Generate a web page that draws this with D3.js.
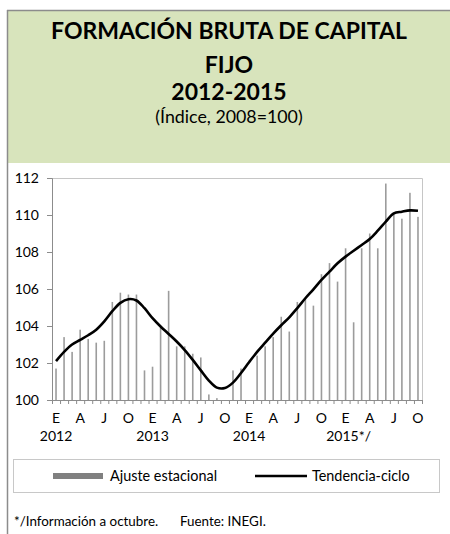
<!DOCTYPE html>
<html>
<head>
<meta charset="utf-8">
<script src="https://cdn.jsdelivr.net/npm/d3@7"></script>
<style>
  body { margin: 0; background: #fff; }
  text { font-family: Lato, "Open Sans", sans-serif; fill: #000; }
</style>
</head>
<body>
<script>
// monthly values, Jan 2012 - Oct 2015
var monthLetters = ["E","F","M","A","M","J","J","A","S","O","N","D"];
var years = ["2012", "2013", "2014", "2015*/"];

var ajuste = [101.7, 103.4, 102.6, 103.8, 103.3, 103.1, 103.2, 105.3, 105.8, 105.7, 105.7, 101.6,
              101.8, 103.9, 105.9, 102.9, 102.9, 102.5, 102.3, 100.3, 100.1, 100.0, 101.6, 101.7,
              100.0, 102.4, 102.9, 103.4, 104.5, 103.7, 105.3, 105.5, 105.1, 106.8, 107.4, 106.4,
              108.2, 104.2, 108.2, 109.0, 108.2, 111.7, 110.1, 109.8, 111.2, 109.9];

var tendencia = [102.1, 102.6, 103.0, 103.25, 103.5, 103.8, 104.25, 104.8, 105.25, 105.45, 105.38, 104.96,
                 104.42, 103.97, 103.57, 103.16, 102.7, 102.17, 101.6, 101.05, 100.67, 100.65, 100.94, 101.46,
                 102.04, 102.6, 103.1, 103.59, 104.04, 104.47, 104.97, 105.5, 105.98, 106.49, 106.94, 107.39,
                 107.75, 108.07, 108.38, 108.7, 109.15, 109.64, 110.09, 110.18, 110.25, 110.23];

var yTicks = [100, 102, 104, 106, 108, 110, 112];

var months = ajuste.map(function(d, i) { return i; });

var svg = d3.select("body").append("svg")
    .attr("width", 450)
    .attr("height", 534);

// outer frame + green title band
svg.append("rect").attr("x", 7).attr("y", 10).attr("width", 443).attr("height", 153)
    .attr("fill", "#d8e4bc");
svg.append("line").attr("x1", 7).attr("x2", 450).attr("y1", 10.5).attr("y2", 10.5)
    .attr("stroke", "#8c8c8c").attr("stroke-width", 1.5);
svg.append("line").attr("x1", 7.5).attr("x2", 7.5).attr("y1", 10).attr("y2", 534)
    .attr("stroke", "#8c8c8c").attr("stroke-width", 1.5);

var titles = [
  {t: "FORMACIÓN BRUTA DE CAPITAL", y: 39, w: "bold", s: 23},
  {t: "FIJO", y: 73, w: "bold", s: 23},
  {t: "2012-2015", y: 100, w: "bold", s: 23},
  {t: "(Índice, 2008=100)", y: 123, w: "normal", s: 17.8}
];
svg.selectAll(".title").data(titles).enter().append("text")
    .attr("class", "title")
    .attr("x", 229)
    .attr("y", function(d) { return d.y; })
    .attr("text-anchor", "middle")
    .attr("font-weight", function(d) { return d.w; })
    .attr("font-size", function(d) { return d.s + "px"; })
    .text(function(d) { return d.t; });

// plot area
var pLeft = 52, pRight = 422, pTop = 178, pBottom = 400;

var x = d3.scaleBand().domain(months).range([pLeft, pRight]);
var y = d3.scaleLinear().domain([100, 112]).range([pBottom, pTop]);

// light frame top/right
svg.append("path")
    .attr("d", "M" + pLeft + "," + (pTop + 0.5) + "H" + (pRight + 0.5) + "V" + pBottom)
    .attr("fill", "none").attr("stroke", "#c6c6c6");

// bars (thin)
svg.selectAll(".bar").data(ajuste).enter().append("rect")
    .attr("class", "bar")
    .attr("x", function(d, i) { return x(i) + x.bandwidth() / 2 - 0.8; })
    .attr("width", 1.6)
    .attr("y", function(d) { return y(d); })
    .attr("height", function(d) { return pBottom - y(d); })
    .attr("fill", "#9c9c9c");

// y axis
var yAxis = svg.append("g")
    .attr("transform", "translate(" + pLeft + ",0)")
    .call(d3.axisLeft(y).tickValues(yTicks).tickSize(5).tickPadding(8).tickFormat(d3.format("d")));
yAxis.select(".domain").attr("stroke", "#8c8c8c");
yAxis.selectAll(".tick line").attr("stroke", "#8c8c8c");
yAxis.selectAll("text").attr("font-size", "14px").attr("font-family", "Lato, sans-serif");

// x axis: ticks between months
svg.append("line").attr("x1", pLeft).attr("x2", pRight + 0.5).attr("y1", pBottom + 0.5).attr("y2", pBottom + 0.5)
    .attr("stroke", "#8c8c8c");
svg.selectAll(".xtick").data(d3.range(ajuste.length + 1)).enter().append("line")
    .attr("class", "xtick")
    .attr("x1", function(i) { return pLeft + i * x.step() + 0.5; })
    .attr("x2", function(i) { return pLeft + i * x.step() + 0.5; })
    .attr("y1", pBottom).attr("y2", pBottom + 4)
    .attr("stroke", "#8c8c8c");

svg.selectAll(".mlab").data(months.filter(function(i) { return i % 3 === 0; })).enter().append("text")
    .attr("class", "mlab")
    .attr("x", function(i) { return x(i) + x.bandwidth() / 2; })
    .attr("y", 423)
    .attr("text-anchor", "middle")
    .attr("font-size", "14px")
    .text(function(i) { return monthLetters[i % 12]; });

svg.selectAll(".ylab").data(years).enter().append("text")
    .attr("class", "ylab")
    .attr("x", function(d, k) { return x(k * 12) + x.bandwidth() / 2 + (k === 3 ? 3 : 0); })
    .attr("y", 441)
    .attr("text-anchor", "middle")
    .attr("font-size", "14px")
    .text(function(d) { return d; });

// trend line
var line = d3.line()
    .x(function(d, i) { return x(i) + x.bandwidth() / 2; })
    .y(function(d) { return y(d); })
    .curve(d3.curveCatmullRom);

svg.append("path")
    .datum(tendencia)
    .attr("d", line)
    .attr("fill", "none")
    .attr("stroke", "#000")
    .attr("stroke-width", 2.6);

// legend
svg.append("rect").attr("x", 13.5).attr("y", 459.5).attr("width", 426).attr("height", 33)
    .attr("fill", "#fff").attr("stroke", "#c8c8c8");
svg.append("rect").attr("x", 53).attr("y", 473).attr("width", 50).attr("height", 6)
    .attr("fill", "#808080");
svg.append("text").attr("x", 110).attr("y", 481).attr("font-size", "14.4px").text("Ajuste estacional");
svg.append("line").attr("x1", 255).attr("x2", 307).attr("y1", 476).attr("y2", 476)
    .attr("stroke", "#000").attr("stroke-width", 2.6);
svg.append("text").attr("x", 312).attr("y", 481).attr("font-size", "14.4px").text("Tendencia-ciclo");

// footnote
svg.append("text").attr("x", 14).attr("y", 526).attr("font-size", "13.4px")
    .text("*/Información a octubre.");
svg.append("text").attr("x", 180).attr("y", 526).attr("font-size", "13.4px")
    .text("Fuente: INEGI.");
</script>
</body>
</html>
